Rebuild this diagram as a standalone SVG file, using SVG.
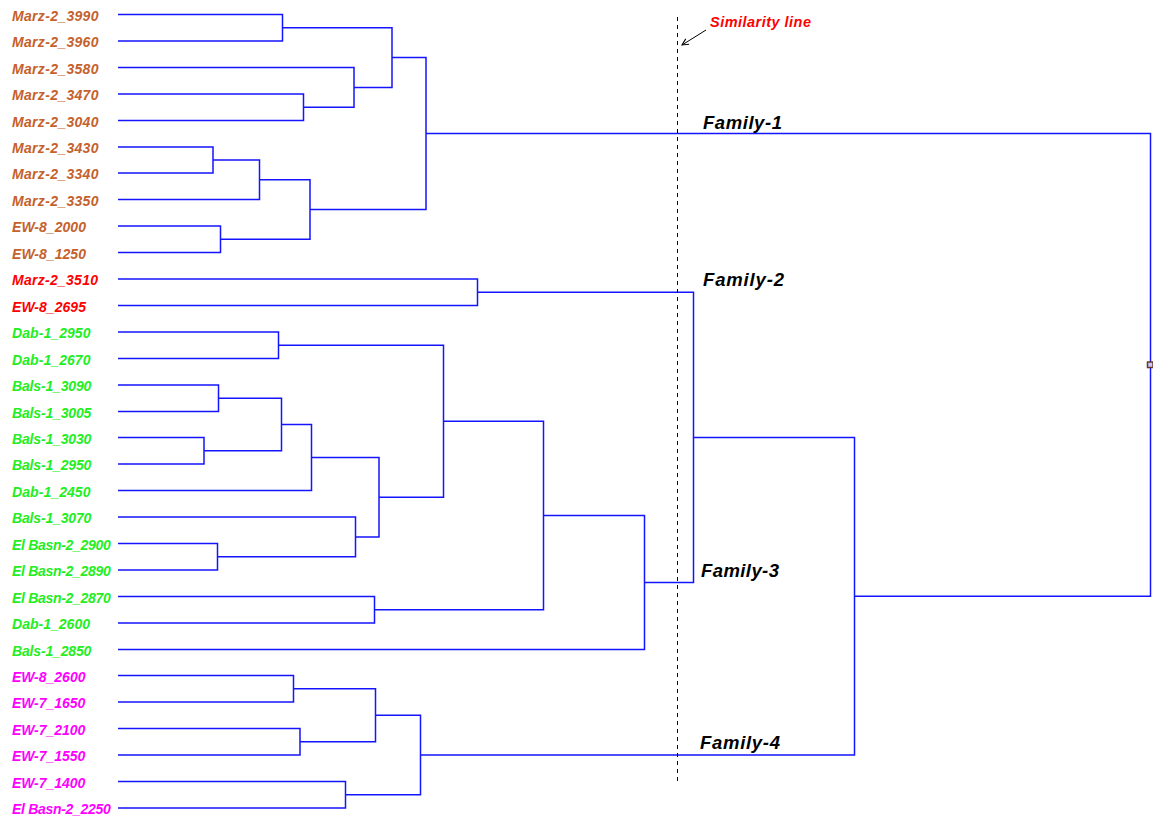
<svg xmlns="http://www.w3.org/2000/svg" width="1153" height="817" viewBox="0 0 1153 817">
<style>
.lbl{font-family:"Liberation Sans",Arial,sans-serif;font-weight:bold;font-style:italic;font-size:14px}
.f1{fill:#C5612C}.f2{fill:#FF0000}.f3{fill:#22EE22}.f4{fill:#FF00FF}
.fam{font-family:"Liberation Sans",Arial,sans-serif;font-weight:bold;font-style:italic;font-size:18.5px;fill:#000}
.br{fill:none;stroke:#1414FF;stroke-width:1.5}
</style>
<defs>
<marker id="ah" viewBox="0 0 10 10" refX="9" refY="5" markerWidth="8" markerHeight="8" orient="auto" markerUnits="userSpaceOnUse">
<path d="M1,1 L9,5 L1,9" fill="none" stroke="#000" stroke-width="1.3"/>
</marker>
</defs>
<rect width="1153" height="817" fill="#fff"/>
<g id="connectors">
<!-- Family 1 -->
<path class="br" d="M118 14.5H282.5V41H118"/>
<path class="br" d="M118 94H303.5V120.5H118"/>
<path class="br" d="M118 67.5H354V107.25H303.5"/>
<path class="br" d="M282.5 27.75H392V87.4H354"/>
<path class="br" d="M118 147H213V173H118"/>
<path class="br" d="M213 160H259.5V199.5H118"/>
<path class="br" d="M118 226H220.5V252.5H118"/>
<path class="br" d="M259.5 179.75H310V239.25H220.5"/>
<path class="br" d="M392 57.6H426V209.5H310"/>
<!-- Family 2 -->
<path class="br" d="M118 279H477.5V305.5H118"/>
<!-- Family 3 -->
<path class="br" d="M118 332H278.5V358.5H118"/>
<path class="br" d="M118 385H218.5V411.5H118"/>
<path class="br" d="M118 437.5H204V464H118"/>
<path class="br" d="M218.5 398.25H281.5V450.75H204"/>
<path class="br" d="M281.5 424.5H311.5V490.5H118"/>
<path class="br" d="M118 543.5H217.5V570H118"/>
<path class="br" d="M118 517H355.5V556.75H217.5"/>
<path class="br" d="M311.5 457.5H379V536.9H355.5"/>
<path class="br" d="M278.5 345.25H443.5V497.2H379"/>
<path class="br" d="M118 596.5H374.5V623H118"/>
<path class="br" d="M443.5 421.2H543.5V609.75H374.5"/>
<path class="br" d="M543.5 515.5H644.5V649.5H118"/>
<path class="br" d="M477.5 292.25H693.5V582.5H644.5"/>
<!-- Family 4 -->
<path class="br" d="M118 675.5H293.5V702H118"/>
<path class="br" d="M118 728.5H300V755H118"/>
<path class="br" d="M293.5 688.75H375.5V741.75H300"/>
<path class="br" d="M118 781.5H345.5V808H118"/>
<path class="br" d="M375.5 715.25H420.5V794.75H345.5"/>
<path class="br" d="M693.5 437.4H854.5V755H420.5"/>
<!-- root -->
<path class="br" d="M426 133.5H1150.5V596.2H854.5"/>
<rect x="1147.5" y="362" width="5.5" height="5.5" fill="#c8c8ff" stroke="#6b3a2a" stroke-width="1.5"/>
<!-- similarity line -->
<line x1="677.5" y1="17" x2="677.5" y2="782" stroke="#000" stroke-width="1" stroke-dasharray="4 4"/>
<line x1="706" y1="30" x2="682" y2="45" stroke="#000" stroke-width="1" marker-end="url(#ah)"/>
</g>
<g id="sim-label"><text x="710" y="27" class="fam" style="font-size:14.5px;fill:#FF0000" textLength="101">Similarity line</text></g>
<g id="family-labels">
<text id="fam1" class="fam" x="703" y="128.5" textLength="79">Family-1</text>
<text id="fam2" class="fam" x="703" y="286" textLength="81">Family-2</text>
<text id="fam3" class="fam" x="701" y="577" textLength="78">Family-3</text>
<text id="fam4" class="fam" x="700" y="748.5" textLength="80">Family-4</text>
</g>
<g id="leaves">
<g id="n0"><text class="lbl f1" x="12" y="20.5" textLength="86.5">Marz-2_3990</text></g>
<g id="n1"><text class="lbl f1" x="12" y="47" textLength="86.5">Marz-2_3960</text></g>
<g id="n2"><text class="lbl f1" x="12" y="73.5" textLength="86.5">Marz-2_3580</text></g>
<g id="n3"><text class="lbl f1" x="12" y="100" textLength="86.5">Marz-2_3470</text></g>
<g id="n4"><text class="lbl f1" x="12" y="126.5" textLength="86.5">Marz-2_3040</text></g>
<g id="n5"><text class="lbl f1" x="12" y="153" textLength="86.5">Marz-2_3430</text></g>
<g id="n6"><text class="lbl f1" x="12" y="179" textLength="86.5">Marz-2_3340</text></g>
<g id="n7"><text class="lbl f1" x="12" y="205.5" textLength="86.5">Marz-2_3350</text></g>
<g id="n8"><text class="lbl f1" x="12" y="232" textLength="74">EW-8_2000</text></g>
<g id="n9"><text class="lbl f1" x="12" y="258.5" textLength="74">EW-8_1250</text></g>
<g id="n10"><text class="lbl f2" x="12" y="285" textLength="86">Marz-2_3510</text></g>
<g id="n11"><text class="lbl f2" x="12" y="311.5" textLength="74">EW-8_2695</text></g>
<g id="n12"><text class="lbl f3" x="12" y="338" textLength="78.5">Dab-1_2950</text></g>
<g id="n13"><text class="lbl f3" x="12" y="364.5" textLength="78.5">Dab-1_2670</text></g>
<g id="n14"><text class="lbl f3" x="12" y="391" textLength="79.3">Bals-1_3090</text></g>
<g id="n15"><text class="lbl f3" x="12" y="417.5" textLength="79.3">Bals-1_3005</text></g>
<g id="n16"><text class="lbl f3" x="12" y="443.5" textLength="79.3">Bals-1_3030</text></g>
<g id="n17"><text class="lbl f3" x="12" y="470" textLength="79.3">Bals-1_2950</text></g>
<g id="n18"><text class="lbl f3" x="12" y="496.5" textLength="78.5">Dab-1_2450</text></g>
<g id="n19"><text class="lbl f3" x="12" y="523" textLength="79.3">Bals-1_3070</text></g>
<g id="n20"><text class="lbl f3" x="12" y="549.5" textLength="98.7">El Basn-2_2900</text></g>
<g id="n21"><text class="lbl f3" x="12" y="576" textLength="98.7">El Basn-2_2890</text></g>
<g id="n22"><text class="lbl f3" x="12" y="602.5" textLength="98.7">El Basn-2_2870</text></g>
<g id="n23"><text class="lbl f3" x="12" y="629" textLength="78">Dab-1_2600</text></g>
<g id="n24"><text class="lbl f3" x="12" y="655.5" textLength="79.3">Bals-1_2850</text></g>
<g id="n25"><text class="lbl f4" x="12" y="681.5" textLength="73.5">EW-8_2600</text></g>
<g id="n26"><text class="lbl f4" x="12" y="708" textLength="73.3">EW-7_1650</text></g>
<g id="n27"><text class="lbl f4" x="12" y="734.5" textLength="73.3">EW-7_2100</text></g>
<g id="n28"><text class="lbl f4" x="12" y="761" textLength="73.3">EW-7_1550</text></g>
<g id="n29"><text class="lbl f4" x="12" y="787.5" textLength="73.3">EW-7_1400</text></g>
<g id="n30"><text class="lbl f4" x="12" y="814" textLength="98.7">El Basn-2_2250</text></g>
</g>
</svg>
